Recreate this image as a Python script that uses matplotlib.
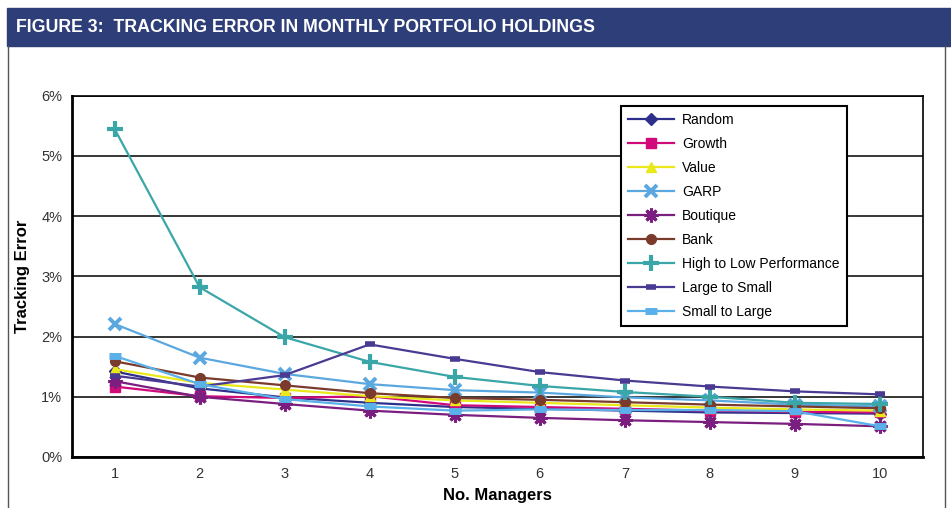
import numpy as np
import matplotlib.pyplot as plt
from matplotlib.patches import Rectangle
from matplotlib.lines import Line2D
from matplotlib.ticker import FuncFormatter

# ---------------------------------------------------------------------
# DATA (tracking error, %)
# ---------------------------------------------------------------------
managers = [1, 2, 3, 4, 5, 6, 7, 8, 9, 10]

random_te   = [1.42, 1.14, 0.99, 0.90, 0.83, 0.80, 0.77, 0.74, 0.73, 0.72]
growth_te   = [1.17, 1.01, 0.98, 1.01, 0.86, 0.83, 0.80, 0.77, 0.75, 0.74]
value_te    = [1.46, 1.23, 1.12, 1.01, 0.94, 0.90, 0.86, 0.82, 0.79, 0.77]
garp_te     = [2.21, 1.65, 1.38, 1.21, 1.11, 1.07, 0.99, 0.94, 0.87, 0.84]
boutique_te = [1.26, 1.00, 0.88, 0.77, 0.70, 0.65, 0.61, 0.58, 0.55, 0.51]
bank_te     = [1.59, 1.32, 1.19, 1.06, 0.98, 0.95, 0.91, 0.87, 0.84, 0.81]
hilo_te     = [5.45, 2.82, 1.99, 1.58, 1.33, 1.18, 1.08, 1.00, 0.90, 0.88]
l2s_te      = [1.35, 1.17, 1.36, 1.87, 1.63, 1.41, 1.27, 1.17, 1.09, 1.04]
s2l_te      = [1.68, 1.21, 0.96, 0.84, 0.77, 0.79, 0.78, 0.78, 0.76, 0.51]

series = [
    ("Random", random_te, "#2e2f8a", "D", 6, 1.0),
    ("Growth", growth_te, "#d10a7a", "s", 6.5, 1.0),
    ("Value", value_te, "#e8e81a", "^", 7, 1.0),
    ("GARP", garp_te, "#5ba8e0", "x", 8, 2.8),
    ("Boutique", boutique_te, "#7a1e80", (8, 2, 0), 10, 2.2),
    ("Bank", bank_te, "#7a3a2c", "o", 7, 1.0),
    ("High to Low Performance", hilo_te, "#3aa6a8", "+", 11, 3.0),
    ("Large to Small", l2s_te, "#4a3a92", "_", 7, 4.0),
    ("Small to Large", s2l_te, "#5ab0e8", "_", 9, 5.0),
]

plt.rcParams["font.family"] = ["Liberation Sans", "DejaVu Sans"]

fig = plt.figure(figsize=(9.51, 5.08), dpi=100)

# header band + outer frame
fig.patches.append(Rectangle((7 / 951, 1 - 46 / 508), 944 / 951, 38 / 508,
                             transform=fig.transFigure, color="#2e3e78", zorder=0))
fig.lines.append(Line2D([7.5 / 951, 7.5 / 951], [0, 1 - 46 / 508], transform=fig.transFigure,
                        color="#555555", lw=1))
fig.lines.append(Line2D([944.5 / 951, 944.5 / 951], [0, 1 - 46 / 508], transform=fig.transFigure,
                        color="#555555", lw=1))
fig.text(16 / 951, 1 - 27 / 508, "FIGURE 3:  TRACKING ERROR IN MONTHLY PORTFOLIO HOLDINGS",
         color="white", fontsize=12.8, fontweight="bold", va="center", ha="left")

ax = fig.add_axes([72 / 951, 51 / 508, (922.5 - 72) / 951, (457 - 95.7) / 508])

for name, vals, col, mk, ms, mew in series:
    ax.plot(managers, vals, color=col, lw=1.6, marker=mk, markersize=ms,
            markeredgewidth=mew, markerfacecolor=col, markeredgecolor=col,
            label=name, zorder=3)

ax.set_xlim(0.5, 10.5)
ax.set_ylim(0, 6)
ax.set_xticks(managers)
ax.set_yticks(np.arange(0, 7, 1))
ax.yaxis.set_major_formatter(FuncFormatter(lambda v, p: f"{int(v)}%"))
ax.tick_params(length=0, labelsize=10.5, colors="#333333", pad=7)
ax.grid(axis="y", color="black", lw=1.1, zorder=1)
for s in ax.spines.values():
    s.set_color("black")
    s.set_linewidth(1.2)
ax.spines["left"].set_linewidth(2)
ax.spines["bottom"].set_linewidth(2)

ax.set_xlabel("No. Managers", fontsize=12, fontweight="bold", labelpad=5)
ax.set_ylabel("Tracking Error", fontsize=12, fontweight="bold")
ax.yaxis.set_label_coords(-0.049, 0.5)

leg = ax.legend(loc="upper left", bbox_to_anchor=(0.6455, 0.9715), borderaxespad=0,
                frameon=True, fancybox=False, edgecolor="black", fontsize=10,
                handlelength=3.3, labelspacing=0.72, borderpad=0.5, handletextpad=0.6,
                framealpha=1)
leg.get_frame().set_linewidth(1.5)
leg.set_zorder(5)

plt.savefig("out.png", dpi=100)
